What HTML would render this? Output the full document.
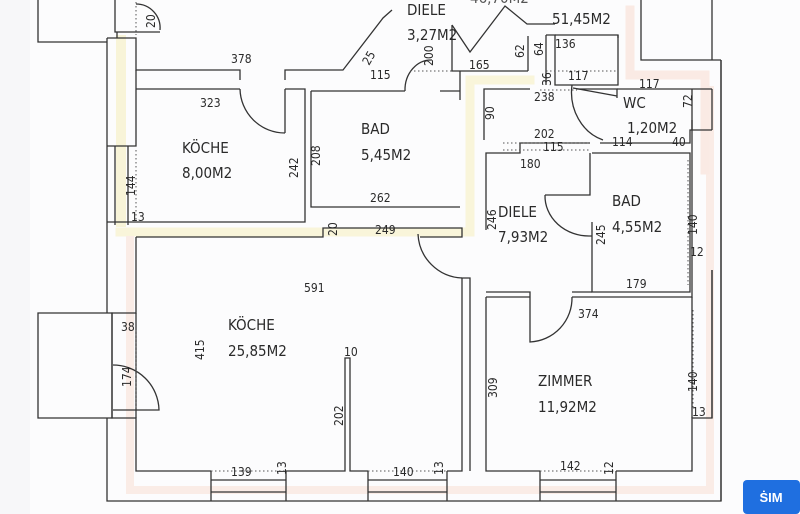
<!DOCTYPE html>
<html><head><meta charset="utf-8"><style>
html,body{margin:0;padding:0;background:#fff}
svg{display:block}
text{font-family:"DejaVu Sans Condensed","Liberation Sans",sans-serif;fill:#2a2a2a}
.l{font-size:15px}.d{font-size:12px}
</style></head><body>
<svg width="800" height="514" viewBox="0 0 800 514" xmlns="http://www.w3.org/2000/svg">
<rect width="800" height="514" fill="#fcfcfd"/>
<rect x="0" y="0" width="30" height="514" fill="#f7f7f9"/>
<g fill="none" stroke-linecap="square">
<path d="M121 40 V222" stroke="#f8f4d8" stroke-width="10"/>
<path d="M120 232 H470 V225 M470 228 V80 H530" stroke="#f9f5da" stroke-width="9"/>
<path d="M130 240 V490 H710 V90" stroke="#faece6" stroke-width="8"/>
<path d="M630 10 V75 H705 V170" stroke="#faeae4" stroke-width="9"/>
</g>
<g fill="none" stroke="#333" stroke-width="1.3">
<path d="M38 0 V42 H107"/>
<path d="M115 0 V32 H160 M117 32 V38"/>
<path d="M136 4 A24 24 0 0 1 160 30"/>
<path d="M107 38 V313 M107 418 V501 H721 V60"/>
<path d="M107 38 H136 V70 H240 V80 M285 80 V70 H343 L383 18 L392 10"/>
<path d="M136 70 V146 H107"/>
<path d="M115 146 V225 M128 146 V225"/>
<path d="M136 89 H240 M285 89 V133 M285 89 H305 V222 H107"/>
<path d="M240 89 A45 45 0 0 0 285 133"/>
<path d="M311 91 V207 H460 M311 91 H405 M440 91 H460"/>
<path d="M405 91 A26 30 0 0 1 432 60"/>
<path d="M452 25 V71 H528 M460 71 V100"/>
<path d="M452 25 L470 52 L505 6 L527 24 H555"/>
<path d="M528 36 V71"/>
<path d="M546 35 V85 M555 35 H618 V38"/>
<path d="M546 35 H555 V85 H618 V35"/>
<path d="M577 89 H617 V98"/>
<path d="M572 85 A45 50 0 0 0 603 140"/>
<path d="M573 88 L617 96"/>
<path d="M486 230 V153 H520 V143 H590"/>
<path d="M484 140 V89 H530"/>
<path d="M617 89 H712 M600 143 H690 V130 H712"/>
<path d="M641 0 V60 H721 M712 0 V60 M712 89 V130 M692 89 V130"/>
<path d="M592 153 H690 V292 H592 V222 M590 153 V195 H545"/>
<path d="M545 195 A44 40 0 0 0 590 236 H592"/>
<path d="M418 234 A46 46 0 0 0 462 278"/>
<path d="M136 237 H323 V228 H462 V237 H420"/>
<path d="M136 237 V313 H112 V418 H136 V471 H211 M286 471 H345 V358 H350 V471 H368 M447 471 H462 V278 H470 V471 M486 297 V471 H540 M616 471 H692 V418 H712 V270"/>
<path d="M136 313 V418"/>
<path d="M38 313 H112 V418 H38 Z"/>
<path d="M113 365 A46 46 0 0 1 159 410 H113"/>
<path d="M486 297 H530 M572 297 H692 V120"/>
<path d="M486 292 H530 V297 M572 292 H592"/>
<path d="M572 297 A44 44 0 0 1 530 342 V297"/>
<path d="M692 297 V418 M712 270 V418 M721 60 V501"/>
<path d="M211 471 V501 M286 471 V501 M211 480 H286 M211 492 H286"/>
<path d="M368 471 V501 M447 471 V501 M368 480 H447 M368 492 H447"/>
<path d="M540 471 V501 M616 471 V501 M540 480 H616 M540 492 H616"/>
</g>
<g stroke="#555" stroke-width="1" stroke-dasharray="1.5 2.5" fill="none">
<path d="M136 150 V222 M136 330 V410 M211 471 H286 M368 471 H447 M540 471 H616 M693 310 V410 M688 160 V285 M503 143 H590 M503 150 H590 M410 71 H452 M546 71 H618 M540 90 H577 M136 2 V35"/>
</g>
<text class="l" x="470" y="3" style="fill:#555">46,70M2</text>
<text class="l" x="407" y="15">DIELE</text>
<text class="l" x="407" y="40">3,27M2</text>
<text class="l" x="552" y="24">51,45M2</text>
<text class="l" x="361" y="134">BAD</text>
<text class="l" x="361" y="160">5,45M2</text>
<text class="l" x="182" y="153">KÖCHE</text>
<text class="l" x="182" y="178">8,00M2</text>
<text class="l" x="623" y="108">WC</text>
<text class="l" x="627" y="133">1,20M2</text>
<text class="l" x="498" y="217">DIELE</text>
<text class="l" x="498" y="242">7,93M2</text>
<text class="l" x="612" y="206">BAD</text>
<text class="l" x="612" y="232">4,55M2</text>
<text class="l" x="228" y="330">KÖCHE</text>
<text class="l" x="228" y="356">25,85M2</text>
<text class="l" x="538" y="386">ZIMMER</text>
<text class="l" x="538" y="412">11,92M2</text>
<g class="d">
<text x="231" y="63">378</text><text x="200" y="107">323</text>
<text x="370" y="202">262</text><text x="375" y="234">249</text>
<text x="469" y="69">165</text><text x="555" y="48">136</text><text x="568" y="80">117</text>
<text x="534" y="101">238</text><text x="639" y="88">117</text>
<text x="534" y="138">202</text><text x="543" y="151">115</text><text x="520" y="168">180</text>
<text x="612" y="146">114</text><text x="672" y="146">40</text>
<text x="370" y="79">115</text><text x="626" y="288">179</text>
<text x="578" y="318">374</text><text x="304" y="292">591</text>
<text x="344" y="356">10</text><text x="121" y="331">38</text>
<text x="131" y="221">13</text><text x="690" y="256">12</text><text x="692" y="416">13</text>
<text x="231" y="476">139</text><text x="393" y="476">140</text><text x="560" y="470">142</text>
</g>
<g class="d">
<text transform="translate(298,178) rotate(-90)">242</text>
<text transform="translate(320,166) rotate(-90)">208</text>
<text transform="translate(135,196) rotate(-90)">144</text>
<text transform="translate(337,236) rotate(-90)">20</text>
<text transform="translate(496,230) rotate(-90)">246</text>
<text transform="translate(605,245) rotate(-90)">245</text>
<text transform="translate(697,235) rotate(-90)">140</text>
<text transform="translate(697,392) rotate(-90)">140</text>
<text transform="translate(204,360) rotate(-90)">415</text>
<text transform="translate(343,426) rotate(-90)">202</text>
<text transform="translate(497,398) rotate(-90)">309</text>
<text transform="translate(131,387) rotate(-90)">174</text>
<text transform="translate(692,108) rotate(-90)">72</text>
<text transform="translate(494,120) rotate(-90)">90</text>
<text transform="translate(524,58) rotate(-90)">62</text>
<text transform="translate(543,56) rotate(-90)">64</text>
<text transform="translate(551,86) rotate(-90)">36</text>
<text transform="translate(433,66) rotate(-90)">200</text>
<text transform="translate(155,28) rotate(-90)">20</text>
<text transform="translate(286,475) rotate(-90)">13</text>
<text transform="translate(443,475) rotate(-90)">13</text>
<text transform="translate(613,475) rotate(-90)">12</text>
<text transform="translate(369,66) rotate(-60)">25</text>
</g>
<rect x="743" y="480" width="57" height="34" rx="4" fill="#1f6fe0"/>
<text x="771" y="502" text-anchor="middle" style="font-size:13px;font-weight:bold;fill:#fff;font-family:'Liberation Sans',sans-serif">ṠIM</text>
</svg>
</body></html>
